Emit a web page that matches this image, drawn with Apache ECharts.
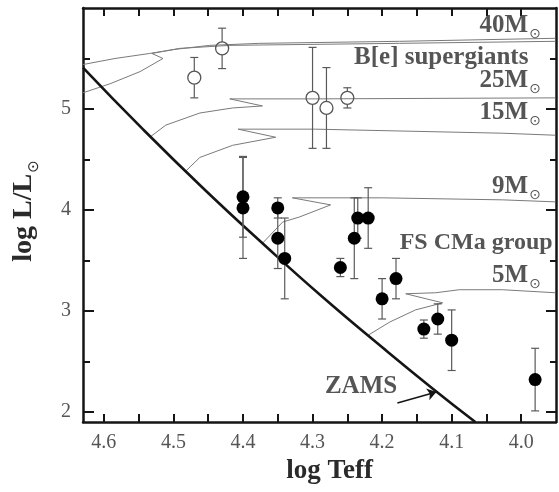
<!DOCTYPE html>
<html>
<head>
<meta charset="utf-8">
<script src="https://cdn.jsdelivr.net/npm/echarts@6/dist/echarts.min.js"></script>
<style>
html,body{margin:0;padding:0;background:#fff}
#hr{width:559px;height:492px}
</style>
</head>
<body>
<div id="hr"></div>
<script>
// B[e] supergiants (open circles): log Teff, log L, error
var besgX = [4.47, 4.43, 4.30, 4.28, 4.25];
var besgY = [5.31, 5.60, 5.11, 5.01, 5.11];
var besgErr = [0.2, 0.2, 0.5, 0.4, 0.1];

// FS CMa group (filled circles)
var fsX = [4.40, 4.40, 4.35, 4.35, 4.34, 4.26, 4.24, 4.235, 4.22, 4.20, 4.18, 4.14, 4.12, 4.10, 3.98];
var fsY = [4.13, 4.02, 4.02, 3.72, 3.52, 3.43, 3.72, 3.92, 3.92, 3.12, 3.32, 2.82, 2.92, 2.71, 2.32];
var fsErr = [0.4, 0.5, 0.1, 0.3, 0.4, 0.09, 0.4, 0.2, 0.3, 0.2, 0.2, 0.09, 0.15, 0.3, 0.31];

// zero age main sequence
var zams = [[4.63, 5.41], [4.544, 4.80], [4.458, 4.22], [4.372, 3.67], [4.286, 3.14],
  [4.199, 2.635], [4.128, 2.235], [4.066, 1.90]];

// evolutionary tracks
var trackA = [[4.63, 5.44], [4.584, 5.50], [4.534, 5.55], [4.498, 5.59], [4.448, 5.63], [4.376, 5.65], [4.175, 5.67], [3.951, 5.70]];
var trackB = [[4.63, 5.16], [4.591, 5.25], [4.548, 5.37], [4.515, 5.50], [4.531, 5.55], [4.491, 5.60], [4.419, 5.63], [4.175, 5.65], [3.951, 5.67]];
var track25 = [[4.534, 4.72], [4.511, 4.84], [4.462, 4.96], [4.415, 5.01], [4.372, 5.03], [4.419, 5.10], [4.296, 5.10], [3.951, 5.11]];
var track15 = [[4.483, 4.38], [4.462, 4.52], [4.415, 4.64], [4.353, 4.72], [4.407, 4.80], [4.296, 4.80], [4.027, 4.76], [3.951, 4.74]];
var track9 = [[4.372, 3.67], [4.343, 3.88], [4.319, 3.93], [4.274, 4.05], [4.329, 4.12], [4.199, 4.12], [4.027, 4.10], [3.951, 4.08]];
var track5 = [[4.22, 2.76], [4.189, 2.89], [4.152, 3.01], [4.113, 3.08], [4.166, 3.17], [4.123, 3.18], [4.089, 3.21], [4.027, 3.21], [3.951, 3.18]];

// track labels (right aligned)
var massNames = ['40M', '25M', '15M', '9M', '5M'];
var massY = [5.817, 5.272, 4.955, 4.223, 3.342];

// ticks
var xTicks = [4.0, 4.05, 4.1, 4.15, 4.2, 4.25, 4.3, 4.35, 4.4, 4.45, 4.5, 4.55, 4.6];
var xLabels = [4.0, 4.1, 4.2, 4.3, 4.4, 4.5, 4.6];
var yMajor = [2, 3, 4, 5];
var yMinor = [2.5, 3.5, 4.5, 5.5];

var ink = '#151515';
var serif = 'Liberation Serif';

function pairs(xs, ys) {
  return xs.map(function (x, i) { return [x, ys[i]]; });
}

function errorBars(xs, ys, errs, gap) {
  return {
    type: 'custom',
    silent: true,
    z: 3,
    data: xs.map(function (x, i) { return [x, ys[i] - errs[i], ys[i] + errs[i], ys[i]]; }),
    encode: { x: 0, y: [1, 2] },
    renderItem: function (params, api) {
      var lo = api.coord([api.value(0), api.value(1)]);
      var hi = api.coord([api.value(0), api.value(2)]);
      var mid = api.coord([api.value(0), api.value(3)]);
      var cap = 4;
      var st = { stroke: '#5a5a5a', lineWidth: 1.2, fill: null };
      return {
        type: 'group',
        children: [
          { type: 'line', shape: { x1: hi[0] - cap, y1: hi[1], x2: hi[0] + cap, y2: hi[1] }, style: st },
          { type: 'line', shape: { x1: lo[0] - cap, y1: lo[1], x2: lo[0] + cap, y2: lo[1] }, style: st },
          { type: 'line', shape: { x1: hi[0], y1: hi[1], x2: mid[0], y2: mid[1] - gap }, style: st },
          { type: 'line', shape: { x1: mid[0], y1: mid[1] + gap, x2: lo[0], y2: lo[1] }, style: st }
        ]
      };
    }
  };
}

function track(data) {
  return {
    type: 'line', data: data, showSymbol: false, silent: true, z: 1,
    lineStyle: { color: '#7a7a7a', width: 1 }
  };
}

function xAxis(pos, labels) {
  return {
    type: 'value', min: 3.95, max: 4.63, inverse: true, position: pos,
    axisLine: { show: true, onZero: false, lineStyle: { color: ink, width: 2.5 } },
    axisTick: { show: true, inside: true, length: 8, customValues: xTicks, lineStyle: { color: ink, width: 2 } },
    axisLabel: labels ? {
      customValues: xLabels, margin: 11, color: '#555', fontFamily: serif, fontSize: 20,
      formatter: function (v) { return v.toFixed(1); }
    } : { show: false },
    splitLine: { show: false }
  };
}

function yAxis(pos, ticks, len, line, labels) {
  return {
    type: 'value', min: 1.9, max: 6.0, position: pos,
    axisLine: { show: line, onZero: false, lineStyle: { color: ink, width: 2.5 } },
    axisTick: { show: true, inside: true, length: len, customValues: ticks, lineStyle: { color: ink, width: 2 } },
    axisLabel: labels ? {
      customValues: ticks, margin: 12, color: '#555', fontFamily: serif, fontSize: 20
    } : { show: false },
    splitLine: { show: false }
  };
}

var yMain = yAxis('left', yMajor, 11, true, true);
yMain.name = '{a|log L/L}{b|⊙}';
yMain.nameLocation = 'middle';
yMain.nameRotate = 90;
yMain.nameGap = 43;
yMain.nameTextStyle = {
  padding: [0, 0, 0, 8],
  rich: {
    a: { fontFamily: serif, fontWeight: 'bold', fontSize: 28, color: '#2a2a2a', lineHeight: 30, verticalAlign: 'top' },
    b: { fontFamily: 'DejaVu Sans', fontSize: 15, color: '#2a2a2a', lineHeight: 15, padding: [17, 0, 0, 1], verticalAlign: 'top' }
  }
};

var massLabelStyle = {
  show: true, position: [0, 0], align: 'right', verticalAlign: 'middle',
  formatter: function (p) { return '{m|' + p.name + '}{s|⊙}'; },
  rich: {
    m: { fontFamily: serif, fontWeight: 'bold', fontSize: 25, color: '#2a2a2a', lineHeight: 26, verticalAlign: 'top' },
    s: { fontFamily: 'DejaVu Sans', fontSize: 14, color: '#2a2a2a', lineHeight: 14, padding: [14, 0, 0, 1], verticalAlign: 'top' }
  }
};

var noteFont = { fontFamily: serif, fontWeight: 'bold', fontSize: 25, color: '#2a2a2a' };

var option = {
  animation: false,
  backgroundColor: '#fff',
  grid: { left: 83, right: 3, top: 8, bottom: 70, containLabel: false, outerBoundsMode: 'none' },
  xAxis: [
    (function () {
      var a = xAxis('bottom', true);
      a.name = 'log Teff';
      a.nameLocation = 'middle';
      a.nameGap = 32;
      a.nameTextStyle = { fontFamily: serif, fontWeight: 'bold', fontSize: 27, color: '#2a2a2a', padding: [0, 0, 0, 20] };
      return a;
    })(),
    xAxis('top', false)
  ],
  yAxis: [
    yMain,
    yAxis('left', yMinor, 7, false, false),
    yAxis('right', yMajor, 10, true, false),
    yAxis('right', yMinor, 6, false, false)
  ],
  series: [
    track(trackA), track(trackB), track(track25), track(track15), track(track9), track(track5),
    {
      type: 'line', data: zams, showSymbol: false, silent: true, z: 2, smooth: true,
      lineStyle: { color: ink, width: 2.6 }
    },
    errorBars(besgX, besgY, besgErr, 6.5),
    errorBars(fsX, fsY, fsErr, 0),
    {
      type: 'scatter', data: pairs(besgX, besgY), symbol: 'circle', symbolSize: 13, z: 4,
      itemStyle: { color: 'rgba(0,0,0,0)', borderColor: '#555', borderWidth: 1.3, opacity: 1 }
    },
    {
      type: 'scatter', data: pairs(fsX, fsY), symbol: 'circle', symbolSize: 13, z: 4,
      itemStyle: { color: '#000', opacity: 1 }
    },
    {
      type: 'scatter', symbolSize: 1, silent: true, z: 5,
      itemStyle: { color: 'rgba(0,0,0,0)' },
      label: massLabelStyle,
      data: massNames.map(function (n, i) { return { name: n, value: [3.971, massY[i]] }; })
    },
    {
      type: 'scatter', symbolSize: 1, silent: true, z: 5,
      itemStyle: { color: 'rgba(0,0,0,0)' },
      label: Object.assign({ show: true, position: [0, 0], verticalAlign: 'middle', formatter: '{b}' }, noteFont),
      data: [
        { name: 'B[e] supergiants', value: [4.2396, 5.505], label: { align: 'left' } },
        { name: 'FS CMa group', value: [4.174, 3.673], label: { align: 'left', fontSize: 24 } },
        { name: 'ZAMS', value: [4.2296, 2.2475], label: { align: 'center' } }
      ],
      markLine: {
        silent: true, symbol: ['none', 'arrow'], symbolSize: 9,
        lineStyle: { color: ink, width: 1.6, type: 'solid' },
        label: { show: false },
        data: [[{ coord: [4.178, 2.089] }, { coord: [4.122, 2.198] }]]
      }
    }
  ]
};

var chart = echarts.init(document.getElementById('hr'));
chart.setOption(option);
</script>
</body>
</html>
